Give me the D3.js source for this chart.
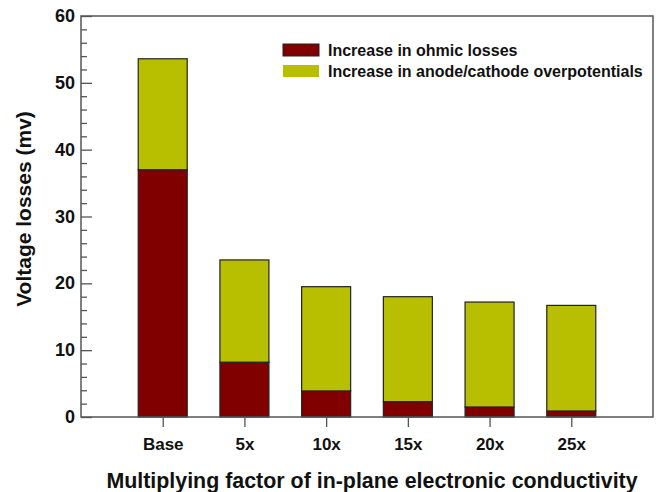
<!DOCTYPE html>
<html>
<head>
<meta charset="utf-8">
<script src="https://cdn.jsdelivr.net/npm/d3@7"></script>
<style>
body{margin:0;background:#fff;}
text{font-family:"Liberation Sans",Arial,sans-serif;font-weight:bold;fill:#111;}
</style>
</head>
<body>
<script>
var categories = ['Base','5x','10x','15x','20x','25x'];
var ohmic = [37.0, 8.2, 3.9, 2.3, 1.5, 0.9];
var overpot = [16.6, 15.3, 15.6, 15.7, 15.7, 15.8];
var seriesNames = ['Increase in ohmic losses','Increase in anode/cathode overpotentials'];
var colors = ['#800000','#b8bf00'];

var W = 664, H = 492;
var mLeft = 81, mRight = 653, mTop = 16, mBottom = 417;

var svg = d3.select('body').append('svg')
  .attr('width',W).attr('height',H);

var x = d3.scalePoint().domain(categories).range([mLeft,mRight]).padding(1);
var y = d3.scaleLinear().domain([0,60]).range([mBottom,mTop]);
var bw = 49;

var rows = categories.map(function(c,i){return {cat:c, ohmic:ohmic[i], overpot:overpot[i]};});
var stack = d3.stack().keys(['ohmic','overpot'])(rows);

svg.append('g').selectAll('g')
  .data(stack).enter().append('g')
  .attr('fill',function(d,i){return colors[i];})
  .selectAll('rect')
  .data(function(d){return d;}).enter().append('rect')
  .attr('x',function(d){return x(d.data.cat)-bw/2;})
  .attr('y',function(d){return y(d[1]);})
  .attr('width',bw)
  .attr('height',function(d){return y(d[0])-y(d[1]);})
  .attr('stroke','#222').attr('stroke-width',1.2);

// frame
svg.append('rect')
  .attr('x',mLeft).attr('y',mTop).attr('width',mRight-mLeft).attr('height',mBottom-mTop)
  .attr('fill','none').attr('stroke','#555').attr('stroke-width',1.5);

// y axis: major ticks inward
var yAxis = d3.axisRight(y).tickValues(d3.range(0,61,10)).tickSize(11).tickFormat('');
svg.append('g').attr('transform','translate('+mLeft+',0)').call(yAxis)
  .call(function(g){g.select('.domain').remove();})
  .selectAll('line').attr('stroke','#555').attr('stroke-width',1.3);
var yMinor = d3.axisRight(y).tickValues(d3.range(0,61,2).filter(function(v){return v%10;})).tickSize(6).tickFormat('');
svg.append('g').attr('transform','translate('+mLeft+',0)').call(yMinor)
  .call(function(g){g.select('.domain').remove();})
  .selectAll('line').attr('stroke','#555').attr('stroke-width',1.3);

svg.append('g').selectAll('text')
  .data(y.ticks(6)).enter().append('text')
  .attr('x',mLeft-6).attr('y',function(d){return y(d)+6;})
  .attr('text-anchor','end').attr('font-size',18)
  .text(function(d){return d;});

// x axis ticks outward
var xAxis = d3.axisBottom(x).tickSize(10).tickPadding(11);
var gx = svg.append('g').attr('transform','translate(0,'+mBottom+')').call(xAxis);
gx.select('.domain').remove();
gx.selectAll('line').attr('stroke','#555').attr('stroke-width',1.3);
gx.selectAll('text').attr('font-size',17).attr('font-family','"Liberation Sans",Arial,sans-serif').attr('fill','#111');

// titles
svg.append('text')
  .attr('transform','translate(31,209) rotate(-90)')
  .attr('text-anchor','middle').attr('font-size',21)
  .text('Voltage losses (mv)');
svg.append('text')
  .attr('x',(mLeft+mRight)/2 + 5).attr('y',488)
  .attr('text-anchor','middle').attr('font-size',21.4)
  .text('Multiplying factor of in-plane electronic conductivity');

// legend
var lg = svg.append('g').attr('transform','translate(283,44)');
seriesNames.forEach(function(n,i){
  lg.append('rect').attr('x',0).attr('y',i*21).attr('width',36).attr('height',12)
    .attr('fill',colors[i]).attr('stroke',i===0?'#222':'none').attr('stroke-width',1);
  lg.append('text').attr('x',45).attr('y',i*21+12).attr('font-size',16).text(n);
});
</script>
</body>
</html>
